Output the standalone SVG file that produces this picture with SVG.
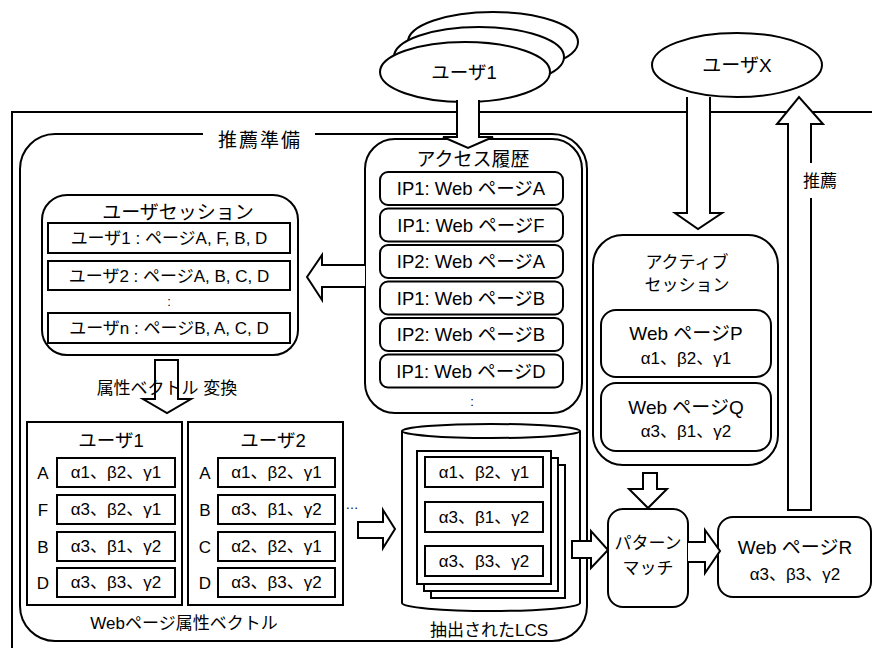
<svg xmlns="http://www.w3.org/2000/svg" width="872" height="648" viewBox="0 0 872 648">
  <style>
    .ln { fill: #fff; stroke: #000; stroke-width: 2; }
    .nf { fill: none; stroke: #000; stroke-width: 2; }
    .ar { fill: #fff; stroke: #000; stroke-width: 2; stroke-linejoin: miter; }
    text { font-family: "Liberation Sans", "Noto Sans CJK JP", sans-serif; font-size: 17px; fill: #000; text-anchor: middle; }
    .big { font-size: 19px; letter-spacing: 2px; }
    .t19 { font-size: 19px; }
    .t18 { font-size: 18.5px; }
    .dot { font-size: 13px; }
  </style>

  <!-- outer frame (continues past the right and bottom edges) -->
  <path class="nf" d="M12,648 V112 H872"/>

  <!-- recommendation preparation area -->
  <g id="prep">
    <rect class="nf" x="20" y="134" width="567" height="507" rx="35"/>
    <rect x="203" y="124" width="112" height="22" fill="#fff"/>
    <text class="big" x="260" y="147">推薦準備</text>
  </g>

  <!-- users -->
  <g id="users">
    <ellipse class="ln" cx="493" cy="42" rx="85" ry="30"/>
    <ellipse class="ln" cx="479" cy="57" rx="85" ry="30"/>
    <ellipse class="ln" cx="465" cy="72" rx="85" ry="30"/>
    <text class="t18" x="464" y="79">ユーザ1</text>
  </g>
  <g id="userX">
    <ellipse class="ln" cx="737" cy="65" rx="85" ry="32"/>
    <text class="t19" x="737" y="72">ユーザX</text>
  </g>

  <!-- access history -->
  <g id="access">
    <rect class="ln" x="365" y="139" width="217" height="274" rx="30"/>
    <text class="t19" x="473" y="166">アクセス履歴</text>
    <rect class="ln" x="380" y="172" width="183" height="33" rx="8"/>
    <text class="t18" x="471" y="195">IP1: Web ページA</text>
    <rect class="ln" x="380" y="208.5" width="183" height="33" rx="8"/>
    <text class="t18" x="471" y="231.5">IP1: Web ページF</text>
    <rect class="ln" x="380" y="245" width="183" height="33" rx="8"/>
    <text class="t18" x="471" y="268">IP2: Web ページA</text>
    <rect class="ln" x="380" y="281.5" width="183" height="33" rx="8"/>
    <text class="t18" x="471" y="304.5">IP1: Web ページB</text>
    <rect class="ln" x="380" y="318" width="183" height="33" rx="8"/>
    <text class="t18" x="471" y="341">IP2: Web ページB</text>
    <rect class="ln" x="380" y="354.5" width="183" height="33" rx="8"/>
    <text class="t18" x="471" y="377.5">IP1: Web ページD</text>
    <text class="dot" x="472" y="406">:</text>
  </g>

  <!-- user sessions -->
  <g id="sessions">
    <rect class="ln" x="42" y="195" width="256" height="160" rx="25"/>
    <text class="t19" x="178" y="219">ユーザセッション</text>
    <rect class="ln" x="48" y="223" width="242" height="30"/>
    <text x="169" y="244">ユーザ1 : ページA, F, B, D</text>
    <rect class="ln" x="48" y="261" width="242" height="29"/>
    <text x="169" y="282">ユーザ2 : ページA, B, C, D</text>
    <text class="dot" x="169" y="306">:</text>
    <rect class="ln" x="48" y="313" width="242" height="30"/>
    <text x="169" y="334">ユーザn : ページB, A, C, D</text>
  </g>

  <!-- web page attribute vectors -->
  <g id="vectors">
    <rect class="ln" x="27" y="422" width="155" height="183"/>
    <text class="t18" x="111" y="447">ユーザ1</text>
    <text x="43" y="479">A</text>
    <rect class="ln" x="57" y="458" width="118" height="29"/>
    <text x="116" y="478">α1、β2、γ1</text>
    <text x="43" y="516">F</text>
    <rect class="ln" x="57" y="495" width="118" height="29"/>
    <text x="116" y="515">α3、β2、γ1</text>
    <text x="43" y="553">B</text>
    <rect class="ln" x="57" y="532" width="118" height="29"/>
    <text x="116" y="552">α3、β1、γ2</text>
    <text x="43" y="589">D</text>
    <rect class="ln" x="57" y="568" width="118" height="29"/>
    <text x="116" y="588">α3、β3、γ2</text>

    <rect class="ln" x="188" y="422" width="155" height="183"/>
    <text class="t18" x="273" y="447">ユーザ2</text>
    <text x="205" y="479">A</text>
    <rect class="ln" x="218" y="458" width="117" height="29"/>
    <text x="276.5" y="478">α1、β2、γ1</text>
    <text x="205" y="516">B</text>
    <rect class="ln" x="218" y="495" width="117" height="29"/>
    <text x="276.5" y="515">α3、β1、γ2</text>
    <text x="205" y="553">C</text>
    <rect class="ln" x="218" y="532" width="117" height="29"/>
    <text x="276.5" y="552">α2、β2、γ1</text>
    <text x="205" y="589">D</text>
    <rect class="ln" x="218" y="568" width="117" height="29"/>
    <text x="276.5" y="588">α3、β3、γ2</text>

    <text class="dot" x="352" y="509">…</text>
    <text x="184" y="629">Webページ属性ベクトル</text>
  </g>

  <!-- extracted LCS store -->
  <g id="lcs">
    <path class="ln" d="M402,431 V603 A89,8 0 0 0 580,603 V431"/>
    <ellipse class="ln" cx="491" cy="431" rx="89" ry="7"/>
    <rect class="ln" x="431" y="465" width="134" height="133"/>
    <rect class="ln" x="424" y="458" width="134" height="133"/>
    <rect class="ln" x="417" y="451" width="134" height="133"/>
    <rect class="ln" x="425" y="457" width="118" height="30"/>
    <text x="484" y="478">α1、β2、γ1</text>
    <rect class="ln" x="425" y="502" width="118" height="30"/>
    <text x="484" y="523">α3、β1、γ2</text>
    <rect class="ln" x="425" y="546" width="118" height="30"/>
    <text x="484" y="567">α3、β3、γ2</text>
    <text x="489" y="636">抽出されたLCS</text>
  </g>

  <!-- active session -->
  <g id="active">
    <rect class="ln" x="593" y="235" width="185" height="230" rx="30"/>
    <text x="687" y="268">アクティブ</text>
    <text x="687" y="291">セッション</text>
    <rect class="ln" x="601" y="310" width="170" height="67" rx="15"/>
    <text class="t19" x="686" y="340">Web ページP</text>
    <text x="686" y="364">α1、β2、γ1</text>
    <rect class="ln" x="601" y="383" width="170" height="68" rx="15"/>
    <text class="t19" x="686" y="414">Web ページQ</text>
    <text x="686" y="437">α3、β1、γ2</text>
  </g>

  <!-- pattern match -->
  <g id="match">
    <rect class="ln" x="608" y="509" width="80" height="98" rx="15"/>
    <text x="648" y="549">パターン</text>
    <text x="648" y="574">マッチ</text>
  </g>

  <!-- recommended page -->
  <g id="pageR">
    <rect class="ln" x="718" y="517" width="153" height="80" rx="15"/>
    <text class="t19" x="795" y="554">Web ページR</text>
    <text x="795" y="580">α3、β3、γ2</text>
  </g>

  <!-- block arrows -->
  <g id="connectors">
    <!-- users to access history -->
    <path class="ar" d="M457,100 V137 H443 L468,148 L493,137 H479 V100"/>
    <!-- access history to user sessions -->
    <path class="ar" d="M365,265 H322 V255 L307,277 L322,300 V287 H365"/>
    <!-- sessions to attribute vectors -->
    <path class="ar" d="M155,360 V399 H143 L167,413 L191,399 H178 V360 Z"/>
    <!-- vectors to LCS extraction -->
    <path class="ar" d="M358,522 H383 V510 L395,529 L383,548 V538 H358 Z"/>
    <!-- LCS to pattern match -->
    <path class="ar" d="M572,541 H591 V531 L608,550 L591,568 V558 H572 Z"/>
    <!-- active session to pattern match -->
    <path class="ar" d="M643,473 V489 H629 L648,508 L667,489 H657 V473 Z"/>
    <!-- pattern match to page R -->
    <path class="ar" d="M688,542 H705 V530 L720,551 L705,573 V562 H688"/>
    <!-- user X to active session -->
    <path class="ar" d="M687,97 V213 H675 L698,229 L722,213 H710 V97"/>
    <!-- page R up to user X (recommendation) -->
    <path class="ar" d="M788,510 V124 H777 L799,97 L823,124 H811 V510 Z"/>
    <rect x="800" y="163" width="40" height="35" fill="#fff"/>
  </g>
  <text x="803" y="187" style="text-anchor:start">推薦</text>
  <text x="167" y="394">属性ベクトル 変換</text>
</svg>
